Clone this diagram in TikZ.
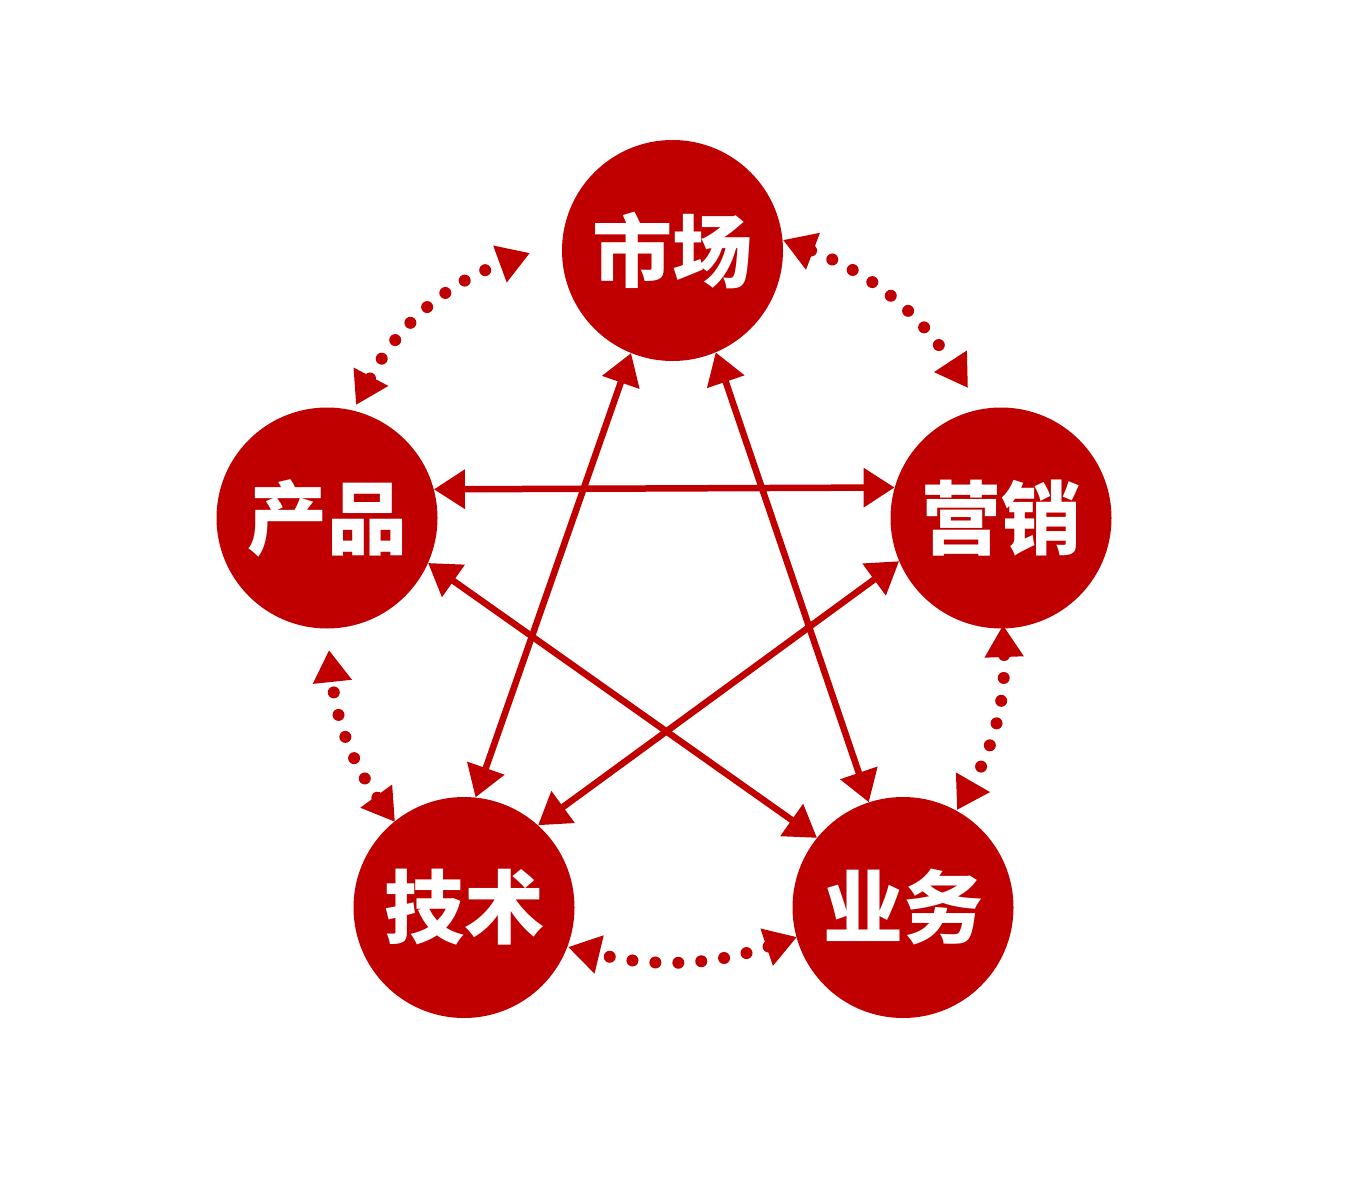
\documentclass[tikz,border=0pt]{standalone}
\usepackage{fontspec}
\newfontfamily\cjk{Noto Sans CJK SC}
\usetikzlibrary{arrows.meta}
\definecolor{dred}{HTML}{C00000}
\tikzset{
  ball/.style={circle, fill=dred, minimum size=221pt, inner sep=0pt, text=white,
    font=\cjk\bfseries\fontsize{80pt}{80pt}\selectfont},
  link/.style={draw=dred, line width=6.5pt, {Triangle[length=31pt,width=38pt]}-{Triangle[length=31pt,width=38pt]}},
  dotlink/.style={draw=dred, line width=12pt, line cap=round, dash pattern=on 0pt off 23pt,
    {Triangle[length=32pt,width=37pt]}-{Triangle[length=32pt,width=37pt]}, bend left=#1},
  dotlink/.default=17
}
\begin{document}
\begin{tikzpicture}[x=1pt,y=1pt]
\useasboundingbox (0,0) rectangle (1356,-1190);
\node[ball] (sc) at (672.5,-250.5) {市场};
\node[ball] (cp) at (327,-518) {产品};
\node[ball] (yx) at (1001,-518) {营销};
\node[ball] (js) at (464,-907.5) {技术};
\node[ball] (yw) at (903,-907.5) {业务};
% solid star
\draw[link] (cp.15.2) -- (yx.164.8);
\draw[link] (sc.248.2) -- (js.84.3);
\draw[link] (sc.293.9) -- (yw.108.5);
\draw[link] (cp.336.9) -- (yw.141.7);
\draw[link] (yx.203.5) -- (js.48.8);
% dotted free ends
\coordinate (a1) at (530,-253);
\coordinate (a2) at (356,-405);
\coordinate (b1) at (783,-240);
\coordinate (b2) at (968,-388);
\coordinate (c1) at (1003,-625);
\coordinate (c2) at (957,-810);
\coordinate (d1) at (568,-947);
\coordinate (d2) at (797,-937);
\coordinate (e1) at (329,-650);
\coordinate (e2) at (395,-822);
\draw[dotlink=18] (b1) to (b2);
\draw[dotlink=16] (c1) to (c2);
\draw[dotlink=16] (d2) to (d1);
\draw[dotlink=15] (e2) to (e1);
\draw[dotlink=21] (a2) to (a1);
\end{tikzpicture}
\end{document}
